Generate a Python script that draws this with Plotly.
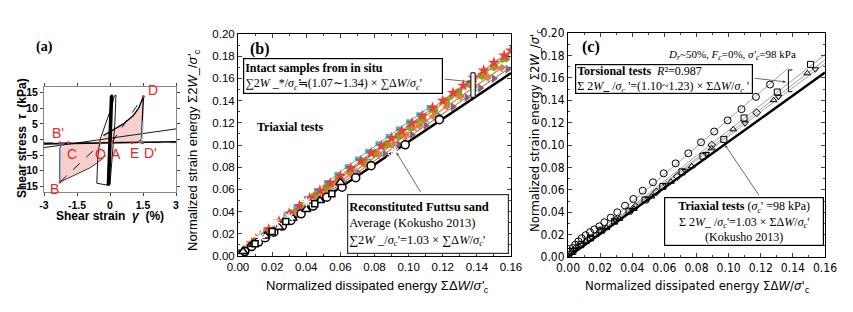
import plotly.graph_objects as go

# ---------------- Panel (a): shear stress - shear strain ----------------
pink1_x = [-2.27, -2.29, -2.28, -2.15, -1.9, -1.2, -0.45, -0.4, -0.35, -0.6, -0.95, -1.4, -1.8, -2.27]
pink1_y = [-13.6, -9.0, -4.0, -1.8, -1.2, -1.1, -1.0, -3.0, -6.2, -7.6, -9.2, -10.8, -12.0, -13.6]
pink2_x = [-0.4, 0.3, 0.8, 1.3, 1.45, 1.47, 1.5, 1.52, 1.3, 1.06, 0.61, 0.15, -0.3, -0.4]
pink2_y = [-1.0, -1.0, -1.0, -1.0, 0.0, 4.0, 9.0, 13.8, 10.0, 7.7, 5.0, 3.1, 1.3, -1.0]
lower_curve_x = [-2.27, -1.8, -1.4, -0.95, -0.6, -0.35, -0.2]
lower_curve_y = [-13.6, -12.0, -10.8, -9.2, -7.6, -6.2, -5.0]
upper_curve_x = [-0.3, 0.15, 0.61, 1.06, 1.3, 1.52, 1.49, 1.46, 1.43, 1.3]
upper_curve_y = [1.3, 3.1, 5.0, 7.7, 10.0, 13.8, 8.0, 3.0, 0.0, -0.9]
long1_x = [-3.0, 3.0]
long1_y = [-2.6, 3.4]
long2_x = [-3.0, 3.0]
long2_y = [-1.4, -0.7]
flat_x = [-3.0, 3.0]
flat_y = [-1.0, -1.0]
bundle_x = [-0.12, 0.02, 0.1, -0.05, -0.08, 0.06, 0.12, -0.02, -0.1, 0.04, 0.08, -0.06]
bundle_y = [-14.8, 13.8, 14.3, -14.5, -14.8, 13.5, 14.0, -14.6, -14.2, 13.6, 12.8, -14.0]
loop_x = [-0.6, -0.55, -0.45, -0.2, 0.05, 0.2, 0.27, 0.22, 0.12, 0.0, -0.2, -0.6]
loop_y = [-14.0, -5.0, 0.0, 5.0, 10.0, 14.0, 14.2, 5.0, -5.0, -14.3, -14.5, -14.0]
blue_left_x = [-2.05, -2.2, -2.28, -2.3, -2.29, -2.27]
blue_left_y = [-1.1, -1.5, -3.0, -7.0, -11.0, -13.6]
blue_right_x = [1.3, 1.42, 1.46, 1.48, 1.5]
blue_right_y = [-1.0, -0.5, 1.0, 3.0, 6.0]
dash1_x = [-2.27, -0.45]
dash1_y = [-13.6, -1.5]
dash2_x = [0.08, 1.52]
dash2_y = [-0.9, 13.8]
pts_label = ["B'", "C", "O", "A", "E", "D'", "D", "B"]
pts_x = [-2.27, -1.9, -0.45, 0.1, 1.0, 1.48, 1.52, -2.27]
pts_y = [-1.0, -1.0, -1.0, -1.0, -1.0, -1.0, 13.8, -13.6]
pts_dx = [-2, 4, 0, 4, 2, 8, 10, -6]
pts_dy = [10, -11, -11, -11, -10, -10, 6, -7]
a_xticks = [-3, -1.5, 0, 1.5, 3]
a_yticks = [-15, -10, -5, 0, 5, 10, 15]

# ---------------- Panel (b): intact samples (triaxial) ----------------
red_x = [0.003, 0.008, 0.013, 0.018, 0.024, 0.030, 0.036, 0.042, 0.048, 0.054, 0.060, 0.066, 0.072, 0.078,
         0.084, 0.090, 0.096, 0.102, 0.108, 0.114, 0.120, 0.126, 0.132, 0.138, 0.144, 0.150, 0.156, 0.160]
red_y = [0.0046, 0.0115, 0.0180, 0.0241, 0.0312, 0.0384, 0.0451, 0.0521, 0.0589, 0.0657, 0.0722, 0.0793,
         0.0857, 0.0928, 0.0993, 0.1064, 0.1128, 0.1199, 0.1264, 0.1335, 0.1400, 0.1470, 0.1535, 0.1606,
         0.1671, 0.1742, 0.1806, 0.1851]
olive_x = [0.004, 0.010, 0.017, 0.024, 0.031, 0.038, 0.045, 0.052, 0.059, 0.066, 0.073, 0.080, 0.087, 0.094,
           0.101, 0.108, 0.115, 0.122, 0.129, 0.136, 0.143, 0.150, 0.157]
olive_y = [0.0057, 0.0136, 0.0222, 0.0302, 0.0382, 0.0461, 0.0540, 0.0617, 0.0695, 0.0773, 0.0850, 0.0928,
           0.1006, 0.1083, 0.1161, 0.1239, 0.1317, 0.1394, 0.1472, 0.1550, 0.1627, 0.1705, 0.1783]
cyan_x = [0.004, 0.010, 0.016, 0.022, 0.028, 0.034, 0.040, 0.046, 0.052, 0.058, 0.064, 0.070, 0.076, 0.082,
          0.088, 0.094, 0.100, 0.106, 0.112]
cyan_y = [0.0053, 0.0132, 0.0210, 0.0288, 0.0364, 0.0440, 0.0515, 0.0589, 0.0662, 0.0734, 0.0805, 0.0874,
          0.0943, 0.1011, 0.1078, 0.1144, 0.1209, 0.1273, 0.1336]
orange_x = [0.004, 0.011, 0.018, 0.026, 0.034, 0.042, 0.050, 0.058, 0.066, 0.074, 0.082, 0.090, 0.098, 0.106,
            0.114, 0.122, 0.130, 0.138, 0.146, 0.154]
orange_y = [0.0058, 0.0136, 0.0212, 0.0298, 0.0386, 0.0474, 0.0561, 0.0648, 0.0735, 0.0822, 0.0909, 0.0996,
            0.1083, 0.1170, 0.1258, 0.1345, 0.1432, 0.1519, 0.1606, 0.1693]
purple_x = [0.005, 0.012, 0.019, 0.026, 0.033, 0.040, 0.047, 0.054, 0.061, 0.068, 0.075, 0.082, 0.089, 0.096,
            0.103, 0.110]
purple_y = [0.0068, 0.0148, 0.0226, 0.0303, 0.0379, 0.0456, 0.0532, 0.0609, 0.0685, 0.0761, 0.0838, 0.0914,
            0.0990, 0.1067, 0.1143, 0.1219]
brown_x = [0.006, 0.014, 0.022, 0.030, 0.038, 0.046, 0.054, 0.062, 0.070, 0.078, 0.086, 0.094, 0.102, 0.110,
           0.118, 0.126, 0.134, 0.142, 0.150, 0.158]
brown_y = [0.0077, 0.0161, 0.0245, 0.0332, 0.0416, 0.0501, 0.0585, 0.0669, 0.0754, 0.0838, 0.0922, 0.1007,
           0.1091, 0.1176, 0.1260, 0.1344, 0.1429, 0.1513, 0.1598, 0.1682]
green_x = [0.005, 0.015, 0.025, 0.035, 0.045, 0.055, 0.065, 0.075, 0.085, 0.095, 0.105, 0.115, 0.125, 0.135,
           0.145, 0.155]
green_y = [0.0075, 0.0196, 0.0309, 0.0421, 0.0534, 0.0646, 0.0758, 0.0870, 0.0982, 0.1094, 0.1206, 0.1318,
           0.1430, 0.1542, 0.1654, 0.1766]
steel_x = [0.004, 0.011, 0.019, 0.027, 0.035, 0.043, 0.051, 0.059, 0.067, 0.075, 0.083, 0.091, 0.099, 0.107,
           0.115, 0.123, 0.131, 0.139, 0.147, 0.155]
steel_y = [0.0058, 0.0142, 0.0229, 0.0316, 0.0403, 0.0489, 0.0576, 0.0663, 0.0749, 0.0835, 0.0921, 0.1008,
           0.1094, 0.1181, 0.1267, 0.1353, 0.1440, 0.1526, 0.1613, 0.1699]
intact_series = [
    ("steel", steel_x, steel_y, "#6e8fc8", "circle", 5),
    ("brown", brown_x, brown_y, "#8b6464", "triangle-right", 8),
    ("purple", purple_x, purple_y, "#b28ae0", "triangle-up", 7),
    ("green", green_x, green_y, "#66bb44", "diamond", 5),
    ("orange", orange_x, orange_y, "#ff7722", "triangle-left", 8),
    ("cyan", cyan_x, cyan_y, "#22c4cc", "square", 5),
    ("olive", olive_x, olive_y, "#9b9b1f", "hexagon", 9),
    ("red", red_x, red_y, "#ee3b3b", "star", 9),
]
# reconstituted Futtsu sand (black)
rc_circ_x = [0.001, 0.004, 0.008, 0.012, 0.016, 0.021, 0.026, 0.031, 0.037, 0.044, 0.052, 0.061, 0.069, 0.078, 0.098, 0.118]
rc_circ_y = [0.001, 0.004, 0.0085, 0.0125, 0.0165, 0.0215, 0.027, 0.032, 0.038, 0.045, 0.053, 0.062, 0.0705, 0.0814, 0.1002, 0.1228]
rc_tri_x = [0.003, 0.009, 0.016, 0.024, 0.032, 0.040, 0.048, 0.060]
rc_tri_y = [0.004, 0.0105, 0.018, 0.026, 0.034, 0.042, 0.050, 0.0663]
rc_ast_x = [0.013, 0.022, 0.030, 0.040, 0.090, 0.092]
rc_ast_y = [0.017, 0.030, 0.035, 0.049, 0.089, 0.094]
rc_sq_x = [0.010, 0.020, 0.028, 0.045, 0.055]
rc_sq_y = [0.011, 0.022, 0.031, 0.047, 0.056]
kokusho_slope = 1.03
kokusho_x = [0.0, 0.16]

# ---------------- Panel (c): torsional tests ----------------
tc_circ_x = [0.0005, 0.0015, 0.003, 0.0045, 0.0065, 0.0085, 0.011, 0.0137, 0.0164, 0.0195, 0.0226, 0.0266,
             0.0307, 0.0355, 0.0407, 0.0465, 0.0529, 0.0596, 0.067, 0.0749, 0.0828, 0.091, 0.0994, 0.108, 0.117, 0.1258]
tc_circ_y = [0.002, 0.005, 0.008, 0.011, 0.014, 0.0168, 0.0195, 0.0222, 0.0247, 0.0274, 0.031, 0.0351,
             0.0399, 0.0458, 0.0518, 0.0592, 0.0667, 0.0747, 0.0836, 0.0926, 0.1024, 0.112, 0.122, 0.132, 0.143, 0.154]
tc_sq_x = [0.003, 0.008, 0.014, 0.021, 0.029, 0.038, 0.048, 0.059, 0.071, 0.084, 0.097, 0.1096, 0.1303, 0.151]
tc_sq_y = [0.005, 0.011, 0.017, 0.024, 0.032, 0.041, 0.051, 0.063, 0.076, 0.090, 0.105, 0.1241, 0.1473, 0.172]
tc_tu_x = [0.002, 0.006, 0.011, 0.017, 0.024, 0.032, 0.041, 0.052, 0.0641, 0.077, 0.0895, 0.1029, 0.128, 0.149]
tc_tu_y = [0.004, 0.009, 0.0135, 0.0195, 0.026, 0.034, 0.043, 0.054, 0.0672, 0.081, 0.097, 0.114, 0.140, 0.164]
tc_td_x = [0.004, 0.009, 0.015, 0.022, 0.030, 0.040, 0.050, 0.061, 0.073, 0.086, 0.1102, 0.131, 0.154]
tc_td_y = [0.006, 0.011, 0.017, 0.024, 0.032, 0.042, 0.052, 0.064, 0.077, 0.092, 0.1194, 0.1431, 0.1676]
tc_di_x = [0.005, 0.012, 0.020, 0.030, 0.042, 0.055, 0.068, 0.0895, 0.1175]
tc_di_y = [0.008, 0.015, 0.023, 0.033, 0.045, 0.058, 0.072, 0.100, 0.1288]
fit_slopes_c = [1.23, 1.13, 1.10, 1.08]
fit_xend_c = [0.137, 0.16, 0.16, 0.16]

# ---------------- figure ----------------
W, H = 853, 312
def px(x):
    return x / W
def py(y):
    return 1 - y / H

SANS = "Liberation Sans, Arial, sans-serif"
NARROW = "Liberation Sans Narrow, DejaVu Sans Condensed, Liberation Sans, sans-serif"
SERIF = "Liberation Serif, Times New Roman, serif"

fig = go.Figure()

def line(x, y, ax, color="black", width=1.0, dash="solid", fill=None, fillcolor=None, mode="lines"):
    fig.add_trace(go.Scatter(x=x, y=y, xaxis=ax[0], yaxis=ax[1], mode=mode,
                             line=dict(color=color, width=width, dash=dash),
                             fill=fill, fillcolor=fillcolor, showlegend=False, hoverinfo="skip"))

A = ("x", "y"); B = ("x2", "y2"); C = ("x3", "y3")

# panel a
line(pink1_x, pink1_y, A, color="rgba(0,0,0,0)", width=0, fill="toself", fillcolor="rgba(242,160,160,0.5)")
line(pink2_x, pink2_y, A, color="rgba(0,0,0,0)", width=0, fill="toself", fillcolor="rgba(242,160,160,0.5)")
line(flat_x, flat_y, A, color="#555", width=0.8, dash="dash")
line(long1_x, long1_y, A, width=0.9)
line(long2_x, long2_y, A, width=1.6)
line(bundle_x, bundle_y, A, width=1.4)
line(loop_x, loop_y, A, width=0.9)
line(lower_curve_x, lower_curve_y, A, color="#5a2a2a", width=1.0)
line(upper_curve_x, upper_curve_y, A, width=1.3)
line(blue_left_x, blue_left_y, A, color="#3f6fa8", width=1.4)
line(blue_right_x, blue_right_y, A, color="#8fb0d0", width=1.4)
line(dash1_x, dash1_y, A, width=0.9, dash="dash")
line(dash2_x, dash2_y, A, width=0.9, dash="dash")
fig.add_trace(go.Scatter(x=pts_x, y=pts_y, xaxis="x", yaxis="y", mode="markers",
                         marker=dict(color="#e8262a", size=3), showlegend=False, hoverinfo="skip"))

# panel b
line(kokusho_x, [kokusho_slope * v for v in kokusho_x], B, width=2.4)
for name, xs, ys, col, sym, sz in intact_series:
    fig.add_trace(go.Scatter(x=xs, y=ys, xaxis="x2", yaxis="y2", mode="lines+markers",
                             line=dict(color=col, width=1), marker=dict(color=col, symbol=sym, size=sz),
                             showlegend=False, hoverinfo="skip"))
for xs, ys, sym, sz in [(rc_circ_x, rc_circ_y, "circle", 8), (rc_tri_x, rc_tri_y, "triangle-up", 8),
                        (rc_ast_x, rc_ast_y, "asterisk-open", 8), (rc_sq_x, rc_sq_y, "square", 6)]:
    fig.add_trace(go.Scatter(x=xs, y=ys, xaxis="x2", yaxis="y2", mode="markers",
                             marker=dict(color="white", symbol=sym, size=sz, line=dict(width=1.5, color="black")),
                             showlegend=False, hoverinfo="skip"))

# panel c
for s, xe in zip(fit_slopes_c, fit_xend_c):
    line([0, xe], [0, s * xe], C, color="#8a8a8a", width=0.8)
line(kokusho_x, [kokusho_slope * v for v in kokusho_x], C, width=2.4)
for xs, ys, sym, sz in [(tc_circ_x, tc_circ_y, "circle-open", 7), (tc_sq_x, tc_sq_y, "square-open", 6),
                        (tc_tu_x, tc_tu_y, "triangle-up-open", 6), (tc_td_x, tc_td_y, "triangle-down-open", 6),
                        (tc_di_x, tc_di_y, "diamond-open", 6)]:
    fig.add_trace(go.Scatter(x=xs, y=ys, xaxis="x3", yaxis="y3", mode="markers",
                             marker=dict(color="black", symbol=sym, size=sz, line=dict(width=1, color="black")),
                             showlegend=False, hoverinfo="skip"))

def energy_axis(dom, font):
    return dict(domain=dom, range=[0, 0.16], dtick=0.02, tickformat=".2f", ticks="inside", ticklen=4,
                mirror="ticks", showline=True, linecolor="black", linewidth=1, showgrid=False, zeroline=False,
                automargin=False, tickfont=font,
                minor=dict(ticks="inside", ticklen=2, dtick=0.01, showgrid=False))

tfb = dict(family=SANS, size=11.5, color="black")
tfc = dict(family=NARROW, size=12, color="black")
tfa = dict(family=SANS, size=10.5, color="black", weight="bold")

fig.update_layout(
    template="none",
    width=W, height=H, margin=dict(l=0, r=0, t=0, b=0, pad=0, autoexpand=False), autosize=False,
    paper_bgcolor="white", plot_bgcolor="white", showlegend=False,
    xaxis=dict(domain=[px(44), px(176)], range=[-3, 3], tickvals=a_xticks, ticktext=["-3", "-1.5", "0", "1.5", "3"],
               ticks="outside", ticklen=3, mirror="ticks", showline=True, linecolor="#888", showgrid=False,
               zeroline=False, automargin=False, tickfont=tfa, anchor="y"),
    yaxis=dict(domain=[py(192), py(87)], range=[-16.8, 16.8], tickvals=a_yticks,
               ticks="outside", ticklen=3, mirror="ticks", showline=True, linecolor="#888", showgrid=False,
               zeroline=False, automargin=False, tickfont=tfa, anchor="x"),
    xaxis2=dict(energy_axis([px(238), px(511)], tfb), anchor="y2"),
    yaxis2=dict(energy_axis([py(256), py(34)], tfb), range=[0, 0.2], anchor="x2"),
    xaxis3=dict(energy_axis([px(568), px(825)], tfc), anchor="y3"),
    yaxis3=dict(energy_axis([py(257), py(33)], tfc), range=[0, 0.2], anchor="x3"),
)

ann = []
def text(x, y, s, size=12, family=SANS, color="black", angle=0, xanchor="center", xref="paper", yref="paper", **kw):
    ann.append(dict(x=x, y=y, text=s, xref=xref, yref=yref, showarrow=False, textangle=angle, xanchor=xanchor,
                    yanchor="middle", font=dict(family=family, size=size, color=color), **kw))

# panel a texts
text(px(44), py(47), "<b>(a)</b>", size=14, family=SERIF)
text(px(22), py(138), "<b>Shear stress  <i>τ</i>  (kPa)</b>", size=12, angle=-90)
text(px(110), py(216), "<b>Shear strain  <i>γ</i>  (%)</b>", size=12)
for lab, xx, yy, dx, dy in zip(pts_label, pts_x, pts_y, pts_dx, pts_dy):
    text(xx, yy, lab, size=14, color="#e8262a", xref="x", yref="y", xshift=dx, yshift=dy)

# panel b texts
text(px(260), py(49), "<b>(b)</b>", size=16, family=SERIF)
text(px(290), py(127), "<b>Triaxial tests</b>", size=12, family=SERIF)
text(px(193), py(150), "Normalized strain energy Σ2<i>W</i>_/<i>σ'</i><sub>c</sub>", size=13, angle=-90)
text(px(377), py(286), "Normalized dissipated energy ΣΔ<i>W</i>/<i>σ'</i><sub>c</sub>", size=13)
ann.append(dict(x=px(343), y=py(76), xref="paper", yref="paper", showarrow=False, xanchor="center", yanchor="middle",
                align="left", width=196, height=32, bordercolor="black", borderwidth=1.2, borderpad=1, bgcolor="white",
                font=dict(family=SERIF, size=12, color="black"),
                text="<b>Intact samples from in situ</b><br>∑2<i>W</i> _*/<i>σ<sub>c</sub></i>≒(1.07∼1.34) × ∑Δ<i>W</i>/<i>σ<sub>c</sub></i>'"))
ann.append(dict(x=px(428), y=py(223.5), xref="paper", yref="paper", showarrow=False, xanchor="center", yanchor="middle",
                align="left", width=158, height=56, bordercolor="#333", borderwidth=1.2, borderpad=1, bgcolor="white",
                font=dict(family=SERIF, size=12.5, color="black"),
                text="<b>Reconstituted Futtsu sand</b><br>Average (Kokusho 2013)<br>∑2<i>W</i> _/<i>σ<sub>c</sub></i>'=1.03 × ∑Δ<i>W</i>/<i>σ<sub>c</sub></i>'"))
ann.append(dict(x=0.1362, y=0.157, ax=0.1202, ay=0.1595, xref="x2", yref="y2", axref="x2", ayref="y2", text="",
                showarrow=True, arrowhead=2, arrowsize=0.7, arrowwidth=0.8, arrowcolor="#444"))
ann.append(dict(x=0.0929, y=0.0932, ax=0.1076, ay=0.0561, xref="x2", yref="y2", axref="x2", ayref="y2", text="",
                showarrow=True, arrowhead=2, arrowsize=0.7, arrowwidth=0.8, arrowcolor="#444"))

# panel c texts
text(px(591), py(47), "<b>(c)</b>", size=16, family=SERIF)
text(px(732), py(55), "<i>D<sub>r</sub></i>~50%, <i>F<sub>c</sub></i>=0%, <i>σ'<sub>c</sub></i>=98 kPa", size=11, family=SERIF)
text(px(535), py(131), "Normalized strain energy Σ2<i>W</i>_/<i>σ'</i><sub>c</sub>", size=13, family=NARROW, angle=-90)
text(px(697), py(286), "Normalized dissipated energy ΣΔ<i>W</i>/<i>σ'</i><sub>c</sub>", size=13, family=NARROW)
ann.append(dict(x=px(664), y=py(79), xref="paper", yref="paper", showarrow=False, xanchor="center", yanchor="middle",
                align="left", width=174, height=26, bordercolor="black", borderwidth=1.2, borderpad=1, bgcolor="white",
                font=dict(family=SERIF, size=12, color="black"),
                text="<b>Torsional tests</b>  <i>R</i>²=0.987<br>Σ 2<i>W</i><b>_</b> /<i>σ<sub>c</sub></i> '=(1.10~1.23) × ΣΔ<i>W</i>/<i>σ<sub>c</sub></i> '"))
ann.append(dict(x=px(744), y=py(221.5), xref="paper", yref="paper", showarrow=False, xanchor="center", yanchor="middle",
                align="center", width=156, height=45, bordercolor="black", borderwidth=1.2, borderpad=1, bgcolor="white",
                font=dict(family=SERIF, size=12, color="black"),
                text="<b>Triaxial tests</b> (<i>σ<sub>c</sub></i>' =98 kPa)<br>Σ 2<i>W</i>_ /<i>σ<sub>c</sub></i>'=1.03 × ΣΔ<i>W</i>/<i>σ<sub>c</sub></i>'<br>(Kokusho 2013)"))
ann.append(dict(x=0.1357, y=0.1563, ax=0.1152, ay=0.1598, xref="x3", yref="y3", axref="x3", ayref="y3", text="",
                showarrow=True, arrowhead=2, arrowsize=0.7, arrowwidth=0.8, arrowcolor="#444"))
ann.append(dict(x=0.0978, y=0.100, ax=0.1196, ay=0.0536, xref="x3", yref="y3", axref="x3", ayref="y3", text="",
                showarrow=True, arrowhead=2, arrowsize=0.7, arrowwidth=0.8, arrowcolor="#444"))
fig.update_layout(annotations=ann)

fig.update_layout(shapes=[
    dict(type="rect", xref="x2", yref="y2", x0=0.1365, x1=0.1390, y0=0.143, y1=0.165,
         fillcolor="white", line=dict(color="black", width=1), layer="above"),
    dict(type="path", xref="x3", yref="y3", path="M 0.1397,0.167 L 0.1372,0.167 L 0.1372,0.1476 L 0.1397,0.1476",
         line=dict(color="black", width=1), layer="above"),
])

fig.write_html("out.html", config={"displayModeBar": False},
               post_script="document.body.style.margin='0';document.body.style.padding='0';")
